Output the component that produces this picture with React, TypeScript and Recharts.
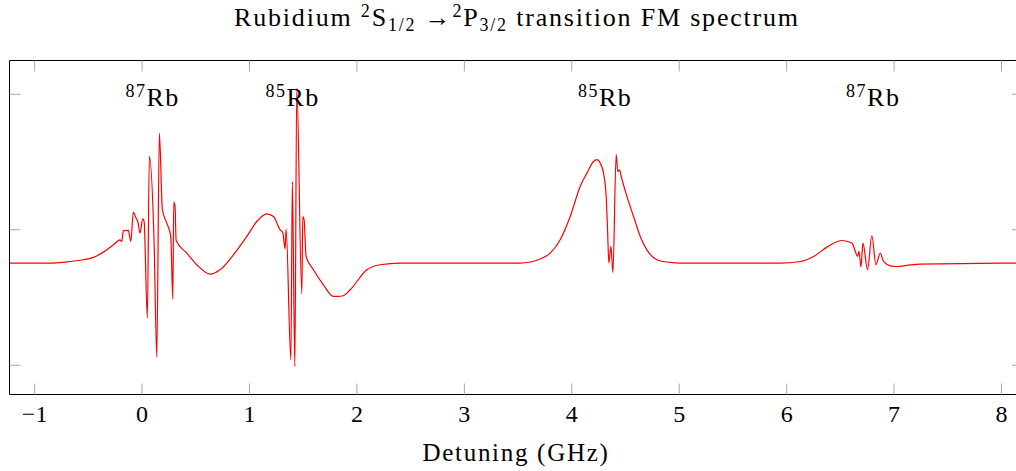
import { LineChart, Line, XAxis, YAxis, ReferenceDot } from 'recharts';

// FM spectrum trace (detuning in GHz, signal in arb. units)
const detuning = [
  -1.23, -0.857, -0.701, -0.547, -0.453, -0.36, -0.267, -0.205, -0.189, -0.174,
  -0.128, -0.105, -0.081, -0.059, -0.04, -0.019, 0.006, 0.019, 0.049, 0.068,
  0.112, 0.137, 0.161, 0.189, 0.23, 0.267, 0.286, 0.295, 0.307, 0.317,
  0.416, 0.509, 0.633, 0.726, 0.85, 0.975, 1.068, 1.161, 1.223, 1.285,
  1.31, 1.331, 1.341, 1.385, 1.399, 1.422, 1.44, 1.487, 1.496, 1.508,
  1.527, 1.595, 1.688, 1.781, 1.825, 1.872, 1.937, 2.092, 2.216, 2.402,
  3.52, 3.706, 3.799, 3.892, 3.985, 4.078, 4.141, 4.202, 4.234, 4.264,
  4.295, 4.32, 4.333, 4.345, 4.364, 4.383, 4.413, 4.429, 4.444, 4.46,
  4.513, 4.575, 4.637, 4.699, 4.792, 4.916, 5.009, 5.94, 6.127, 6.251,
  6.375, 6.515, 6.608, 6.639, 6.66, 6.673, 6.692, 6.71, 6.753, 6.793,
  6.831, 6.871, 6.902, 6.965, 7.027, 7.12, 7.244, 8.2,
];
const signal = [
  -0.246, -0.246, -0.237, -0.221, -0.204, -0.165, -0.111, -0.074, -0.086, -0.007,
  -0.005, -0.086, 0.131, 0.091, 0.061, -0.024, 0.081, 0.061, -0.652, 0.541,
  -0.098, -0.939, 0.714, 0.148, 0.049, -0.049, -0.511, 0.204, 0.172, -0.079,
  -0.172, -0.258, -0.327, -0.295, -0.185, -0.049, 0.061, 0.118, 0.098, 0,
  -0.02, -0.142, 0.005, -0.959, 0.356, -1.009, 1.046, -0.472, 0.098, 0.074,
  -0.197, -0.295, -0.406, -0.492, -0.492, -0.487, -0.443, -0.295, -0.258, -0.246,
  -0.246, -0.216, -0.172, -0.074, 0.098, 0.32, 0.418, 0.504, 0.517, 0.492,
  0.418, 0.246, 0, -0.246, -0.123, -0.315, 0.554, 0.43, 0.443, 0.393,
  0.246, 0.098, -0.049, -0.148, -0.221, -0.241, -0.246, -0.246, -0.234, -0.197,
  -0.128, -0.079, -0.098, -0.16, -0.197, -0.16, -0.275, -0.098, -0.295, -0.044,
  -0.258, -0.172, -0.234, -0.266, -0.271, -0.263, -0.253, -0.246,
];

const xTicks = [-1, 0, 1, 2, 3, 4, 5, 6, 7, 8];
const yTicks = [-1, 0, 1];

// isotope annotations
const isotopeMass = ['87', '85', '85', '87'];
const isotopeX = [0.098, 1.401, 4.311, 6.806];
const isotopeY = 0.915;

const X_DOMAIN: [number, number] = [-1.234, 8.2];
const Y_DOMAIN: [number, number] = [-1.2155, 1.249];
const SERIF = 'Liberation Serif';
const TICK_GRAY = '#a8a8a8';
const TICK_LEN = 11;

const spectrum = detuning.map((x, i) => ({ x, y: signal[i] }));

function BottomTick(props: any) {
  const { x, y, payload } = props;
  const v = payload.value;
  return (
    <g>
      <line x1={x} x2={x} y1={y} y2={y - TICK_LEN} stroke={TICK_GRAY} />
      <text
        x={x}
        y={y + 27}
        textAnchor="middle"
        fill="#000"
        style={{ fontFamily: SERIF, fontSize: 24 }}
      >
        {v < 0 ? `\u2212${-v}` : `${v}`}
      </text>
    </g>
  );
}

// inward tick marks for the mirrored frame axes
const TopTick = ({ x, y }: any) => (
  <line x1={x} x2={x} y1={y} y2={y + TICK_LEN} stroke={TICK_GRAY} />
);
const LeftTick = ({ x, y }: any) => (
  <line x1={x} x2={x + TICK_LEN} y1={y} y2={y} stroke={TICK_GRAY} />
);
const RightTick = ({ x, y }: any) => (
  <line x1={x} x2={x - TICK_LEN} y1={y} y2={y} stroke={TICK_GRAY} />
);

function IsotopeLabel({ viewBox, mass }: any) {
  const { x, y } = viewBox;
  return (
    <text
      x={x}
      y={y}
      textAnchor="middle"
      fill="#000"
      style={{ fontFamily: SERIF, fontSize: 26, letterSpacing: 1.5 }}
    >
      <tspan dy={-9} style={{ fontSize: 18 }}>{mass}</tspan>
      <tspan dy={9}>Rb</tspan>
    </text>
  );
}

export default function App() {
  const sup = { fontSize: 18 };
  return (
    <div
      style={{
        position: 'absolute',
        left: 0,
        top: 0,
        width: 1016,
        height: 471,
        overflow: 'hidden',
        background: '#fff',
      }}
    >
      <LineChart
        width={1030}
        height={471}
        data={spectrum}
        margin={{ top: 60.5, right: 7, bottom: 46.5, left: 9.5 }}
      >
        <XAxis
          xAxisId="main"
          dataKey="x"
          type="number"
          domain={X_DOMAIN}
          allowDataOverflow
          ticks={xTicks}
          interval={0}
          height={30}
          tickSize={0}
          tickMargin={0}
          tickLine={false}
          axisLine={{ stroke: '#000' }}
          tick={<BottomTick />}
        />
        <XAxis
          xAxisId="top"
          orientation="top"
          mirror
          dataKey="x"
          type="number"
          domain={X_DOMAIN}
          allowDataOverflow
          ticks={xTicks}
          interval={0}
          height={12}
          tickSize={0}
          tickMargin={0}
          tickLine={false}
          tick={<TopTick />}
          axisLine={{ stroke: '#000' }}
        />
        <YAxis
          yAxisId="left"
          type="number"
          domain={Y_DOMAIN}
          allowDataOverflow
          ticks={yTicks}
          interval={0}
          mirror
          width={12}
          tickSize={0}
          tickMargin={0}
          tickLine={false}
          tick={<LeftTick />}
          axisLine={{ stroke: '#000' }}
        />
        <YAxis
          yAxisId="right"
          orientation="right"
          type="number"
          domain={Y_DOMAIN}
          allowDataOverflow
          ticks={yTicks}
          interval={0}
          mirror
          width={12}
          tickSize={0}
          tickMargin={0}
          tickLine={false}
          tick={<RightTick />}
          axisLine={{ stroke: '#000' }}
        />
        <Line
          xAxisId="main"
          yAxisId="left"
          type="monotone"
          dataKey="y"
          stroke="#ff0000"
          strokeWidth={1.2}
          dot={false}
          activeDot={false}
          isAnimationActive={false}
        />
        {isotopeMass.map((m, i) => (
          <ReferenceDot
            key={i}
            xAxisId="main"
            yAxisId="left"
            x={isotopeX[i]}
            y={isotopeY}
            r={0}
            fill="none"
            stroke="none"
            label={(p: any) => <IsotopeLabel viewBox={p.viewBox} mass={m} />}
          />
        ))}
      </LineChart>
      <svg
        width={1016}
        height={471}
        style={{ position: 'absolute', left: 0, top: 0, pointerEvents: 'none' }}
      >
        <text
          x={517}
          y={26}
          textAnchor="middle"
          fill="#000"
          style={{ fontFamily: SERIF, fontSize: 26, letterSpacing: 1.8 }}
        >
          {'Rubidium '}
          <tspan dy={-9} style={sup}>2</tspan>
          <tspan dy={9}>S</tspan>
          <tspan dy={5} style={sup}>1/2</tspan>
          <tspan dy={-5}>{' \u2192'}</tspan>
          <tspan dy={-9} style={sup}>2</tspan>
          <tspan dy={9}>P</tspan>
          <tspan dy={5} style={sup}>3/2</tspan>
          <tspan dy={-5}>{' transition FM spectrum'}</tspan>
        </text>
        <text
          x={516}
          y={461}
          textAnchor="middle"
          fill="#000"
          style={{ fontFamily: SERIF, fontSize: 25, letterSpacing: 1.7 }}
        >
          Detuning (GHz)
        </text>
      </svg>
    </div>
  );
}
